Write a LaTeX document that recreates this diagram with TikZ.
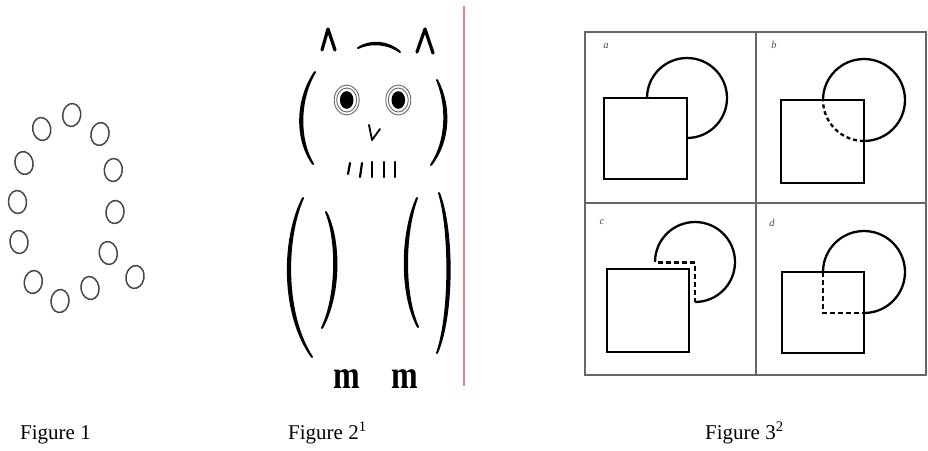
\documentclass[tikz,border=0pt]{standalone}
\usepackage{fontspec}
\setmainfont{Liberation Serif}
\usetikzlibrary{calc}
% tapered brush stroke: start, control 1, control 2, end, half-width offset
\newcommand\brush[5]{%
  \fill[draw,line width=2,line join=round,line cap=round]
    #1 .. controls ($#2+#5$) and ($#3+#5$) .. #4
       .. controls ($#3-#5$) and ($#2-#5$) .. #1 -- cycle;}
\begin{document}
\begin{tikzpicture}[x=1pt,y=-1pt,
  ring/.style={draw=black!72,line width=1.5},
  owl/.style={line width=3.2,line cap=round,line join=round},
  chest/.style={line width=2.2,line cap=round},
  eyering/.style={draw=black!60,line width=0.9},
  frame/.style={draw=black!60,line width=1.3},
  sq/.style={line width=2.7},
  circ/.style={line width=2.3},
  dsh/.style={line width=2.5,dash pattern=on 5pt off 3pt},
  panel/.style={font=\itshape\fontsize{10.5}{10.5}\selectfont,text=black!70,inner sep=0pt},
  foot/.style={font=\bfseries\fontsize{40}{40}\selectfont,inner sep=0pt,anchor=base},
  caption/.style={font=\fontsize{21}{21}\selectfont,anchor=base west,inner sep=0pt}]
\useasboundingbox (0,0) rectangle (928,450);

% --- Figure 1: ring of small loops ---
\foreach \cx/\cy/\rot in {71.7/115/-8, 41.7/129/10, 100/134/-12, 24/163/12,
  113.3/170/-5, 17.5/202/5, 115/212/-6, 19/242/6, 108.3/253/10,
  33.3/282/-10, 135/277/-10, 90/288/10, 60/301/-6}
  \draw[ring,rotate around={\rot:(\cx,\cy)}] (\cx,\cy) ellipse [x radius=9, y radius=11.5];

% --- Figure 2: owl ---
% ears and brow
\draw[owl] (322,50) -- (328,29) -- (335,50);
\draw[owl] (417,52) -- (425,29) -- (433,53);
\brush{(358,48)}{(370,41)}{(388,42)}{(400,52)}{(0,-1)}
% head
\brush{(315,72)}{(297,100)}{(297,140)}{(313,164)}{(1.4,0)}
\brush{(437,80)}{(449,105)}{(449,140)}{(431,165)}{(1.4,0)}
% eyes
\foreach \ex in {346.7,398.3}{
  \draw[eyering] (\ex,100) ellipse [x radius=12.5, y radius=15];
  \draw[eyering] (\ex,100) ellipse [x radius=10, y radius=12];
  \fill (\ex,100) ellipse [x radius=6.8, y radius=8.8];
}
% beak
\draw[line width=1.8,line cap=round,line join=round] (369,125) -- (372,140) -- (380,129);
% chest marks
\draw[chest] (350,163) -- (348,174);
\draw[chest] (362,163) -- (360,177);
\draw[chest] (372,162) -- (372,177);
\draw[chest] (384,162) -- (384,177);
\draw[chest] (395,162) -- (395,177);
% body and wings
\brush{(303,198)}{(283,240)}{(283,315)}{(312,357)}{(1.5,0)}
\brush{(326,212)}{(339,240)}{(339,295)}{(322,328)}{(1.5,0)}
\brush{(417,198)}{(402,235)}{(402,295)}{(418,327)}{(1.5,0)}
\brush{(439,193)}{(452,230)}{(452,315)}{(437,353)}{(1.5,0)}
% feet
\begin{scope}
  \clip (300,350) rectangle (460,387);
  \node[foot] (footL) at (347,388) {\scalebox{0.8}[1]{m}};
  \node[foot] (footR) at (405,388) {\scalebox{0.8}[1]{m}};
\end{scope}
% margin rule
\draw[draw={rgb,255:red,240;green,128;blue,128},line width=1.8] (464,6) -- (464,386);

% --- Figure 3: square and circle panels ---
\draw[frame] (585,32) rectangle (926,375);
\draw[frame] (756,32) -- (756,375);
\draw[frame] (585,203) -- (926,203);
\node[panel] (la) at (606,46) {a};
\node[panel] (lb) at (774,45) {b};
\node[panel] (lc) at (602,222) {c};
\node[panel] (ld) at (772,223) {d};
% panel a
\draw[circ] (647,98) arc[start angle=180,end angle=450,radius=40];
\draw[sq] (604,98) rectangle (687,179);
% panel b
\draw[sq] (781,100) rectangle (864,183);
\draw[circ] (823,100) arc[start angle=180,end angle=450,radius=41];
\draw[circ,dash pattern=on 4pt off 3pt] (864,141) arc[start angle=90,end angle=180,radius=41];
% panel c
\draw[sq] (607,269) rectangle (689,352);
\draw[circ] (655,262) arc[start angle=180,end angle=450,radius=40];
\draw[dsh] (658,262.5) -- (695,262.5) -- (695,302);
% panel d
\draw[sq] (782,272) rectangle (864,353);
\draw[circ] (823,272) arc[start angle=180,end angle=450,radius=41];
\draw[dsh] (823,272) -- (823,313) -- (864,313);

% --- captions ---
\node[caption] (cap1) at (20,439) {Figure 1};
\node[caption] (cap2) at (288,439) {Figure 2\textsuperscript{1}};
\node[caption] (cap3) at (705,439) {Figure 3\textsuperscript{2}};
\end{tikzpicture}
\end{document}
